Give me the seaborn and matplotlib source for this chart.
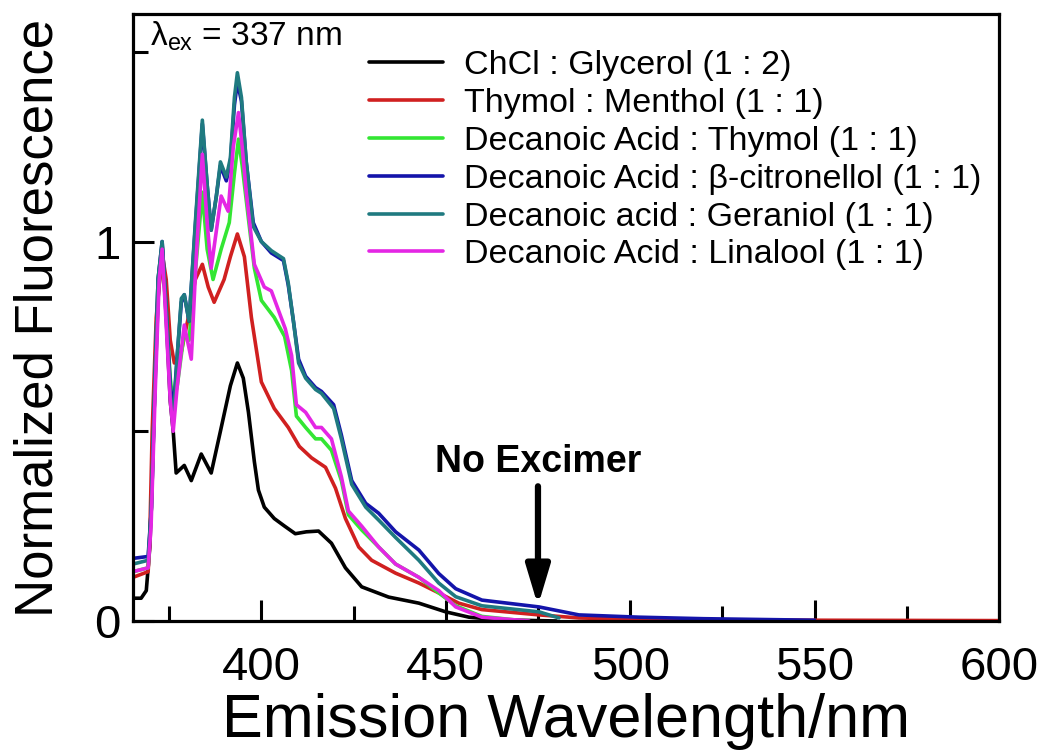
import numpy as np
import pandas as pd
import matplotlib
matplotlib.use('Agg')
import matplotlib.pyplot as plt
import seaborn as sns
from matplotlib.ticker import FixedLocator

# samples (legend order) and colours
samples = ['ChCl : Glycerol (1 : 2)', 'Thymol : Menthol (1 : 1)',
           'Decanoic Acid : Thymol (1 : 1)', 'Decanoic Acid : \u03b2-citronellol (1 : 1)',
           'Decanoic acid : Geraniol (1 : 1)', 'Decanoic Acid : Linalool (1 : 1)']
colors = ['#000000', '#d02020', '#33e633', '#1414aa', '#1f7a80', '#e426e4']

# emission spectra (wavelength nm, normalized intensity)
wl_black = [365.2, 367.4, 368.8, 369.8, 370.9, 372.0, 373.1, 374.2, 375.3, 376.1, 376.9, 379.1, 381.0,
            383.7, 386.4, 388.9, 391.6, 393.5, 395.1, 396.5, 398.1, 399.2, 400.8, 403.5, 406.3, 409.2,
            412.2, 415.5, 419.0, 422.8, 427.2, 434.5, 442.7, 450.0, 456.3, 464.4, 480.0]
fl_black = [0.06, 0.06, 0.08, 0.20, 0.55, 0.85, 0.99, 0.80, 0.58, 0.50, 0.39, 0.41, 0.37,
            0.44, 0.39, 0.50, 0.62, 0.68, 0.64, 0.55, 0.42, 0.345, 0.30, 0.27, 0.25, 0.23,
            0.235, 0.237, 0.205, 0.14, 0.09, 0.063, 0.047, 0.024, 0.01, 0.003, 0.0]

wl_red = [365.2, 369.3, 369.7, 370.4, 371.5, 373.1, 374.2, 375.3, 376.4, 378.3, 380.2, 382.1, 384.0,
          385.6, 387.2, 389.9, 391.6, 393.5, 395.4, 397.3, 400.0, 403.5, 407.3, 410.3, 413.6, 417.4,
          420.1, 422.8, 426.4, 429.9, 436.4, 442.7, 448.1, 453.5, 459.8, 475.3, 486.1, 502.4, 550.0, 600.0]
fl_red = [0.115, 0.13, 0.20, 0.50, 0.80, 0.97, 0.90, 0.74, 0.68, 0.71, 0.80, 0.90, 0.94,
          0.88, 0.84, 0.90, 0.96, 1.02, 0.96, 0.80, 0.63, 0.56, 0.51, 0.46, 0.43, 0.405,
          0.35, 0.27, 0.195, 0.16, 0.126, 0.10, 0.074, 0.047, 0.03, 0.016, 0.008, 0.004, 0.002, 0.001]

wl_green = [365.2, 369.3, 370.2, 371.2, 372.0, 373.1, 374.2, 375.3, 376.1, 377.2, 379.1, 380.4, 382.1,
            384.0, 385.3, 386.9, 389.1, 391.3, 392.7, 393.8, 394.8, 396.5, 398.1, 400.0, 403.5, 406.3,
            408.2, 409.5, 412.0, 414.7, 416.3, 419.0, 421.7, 423.6, 427.2, 431.8, 436.4, 442.7, 448.1,
            452.7, 459.8, 468.5]
fl_green = [0.13, 0.14, 0.30, 0.65, 0.90, 0.99, 0.82, 0.64, 0.57, 0.62, 0.76, 0.74, 0.92,
            1.13, 0.98, 0.90, 0.98, 1.05, 1.18, 1.27, 1.20, 1.06, 0.93, 0.845, 0.80, 0.75,
            0.66, 0.54, 0.51, 0.48, 0.48, 0.45, 0.37, 0.28, 0.24, 0.195, 0.15, 0.115, 0.074,
            0.04, 0.012, 0.003]

wl_blue = [365.2, 369.3, 370.2, 371.2, 372.0, 373.1, 374.2, 375.3, 376.1, 377.2, 378.3, 379.1, 380.4,
           382.1, 384.0, 385.3, 386.4, 387.8, 388.9, 390.5, 391.6, 392.7, 393.5, 394.6, 395.9, 397.8,
           400.0, 402.7, 406.0, 407.3, 408.7, 410.1, 412.0, 414.7, 416.3, 419.6, 421.7, 424.5, 428.3,
           431.8, 436.4, 442.7, 448.1, 452.7, 459.8, 475.3, 486.1, 502.4, 520.0, 550.0]
fl_blue = [0.165, 0.17, 0.30, 0.65, 0.90, 1.0, 0.82, 0.62, 0.55, 0.70, 0.84, 0.86, 0.79,
           1.04, 1.31, 1.15, 1.03, 1.12, 1.20, 1.16, 1.21, 1.36, 1.42, 1.37, 1.21, 1.05,
           1.0, 0.97, 0.95, 0.885, 0.79, 0.69, 0.645, 0.615, 0.605, 0.57, 0.49, 0.37, 0.31,
           0.284, 0.235, 0.187, 0.125, 0.085, 0.055, 0.037, 0.016, 0.01, 0.006, 0.002]

wl_teal = [365.2, 369.3, 370.2, 371.2, 372.0, 373.1, 374.2, 375.3, 376.1, 377.2, 378.3, 379.1, 380.4,
           382.1, 384.0, 385.3, 386.4, 387.8, 388.9, 390.5, 391.6, 392.7, 393.5, 394.6, 395.9, 397.8,
           400.0, 402.7, 406.0, 407.3, 408.7, 410.1, 412.0, 414.7, 416.3, 419.6, 421.7, 424.5, 428.3,
           431.8, 436.4, 442.7, 448.1, 452.7, 459.8, 475.3, 480.7]
fl_teal = [0.15, 0.16, 0.30, 0.65, 0.90, 1.0, 0.82, 0.60, 0.52, 0.70, 0.85, 0.86, 0.79,
           1.05, 1.32, 1.15, 1.03, 1.12, 1.21, 1.17, 1.22, 1.38, 1.445, 1.38, 1.21, 1.04,
           1.0, 0.976, 0.955, 0.89, 0.79, 0.68, 0.64, 0.61, 0.60, 0.56, 0.48, 0.36, 0.30,
           0.266, 0.22, 0.16, 0.10, 0.064, 0.04, 0.024, 0.008]

wl_mag = [365.2, 369.3, 370.1, 371.2, 372.3, 373.1, 374.2, 375.3, 376.1, 377.2, 379.1, 381.0, 382.3,
          384.0, 385.3, 386.4, 389.1, 391.0, 392.4, 393.8, 394.8, 395.9, 398.1, 400.8, 402.7, 404.6,
          406.5, 408.2, 409.5, 412.0, 414.7, 416.3, 419.0, 421.7, 423.6, 427.2, 431.8, 436.4, 442.7,
          448.1, 452.7, 459.8, 472.6]
fl_mag = [0.13, 0.14, 0.25, 0.60, 0.90, 0.98, 0.78, 0.58, 0.50, 0.62, 0.78, 0.69, 0.95,
          1.23, 1.05, 0.93, 1.12, 1.08, 1.25, 1.34, 1.25, 1.13, 0.94, 0.88, 0.87, 0.82,
          0.77, 0.70, 0.57, 0.55, 0.51, 0.51, 0.48, 0.38, 0.29, 0.25, 0.195, 0.15, 0.115,
          0.08, 0.037, 0.01, 0.0]

wavelengths = [wl_black, wl_red, wl_green, wl_blue, wl_teal, wl_mag]
intensities = [fl_black, fl_red, fl_green, fl_blue, fl_teal, fl_mag]

frames = []
for name, w, f in zip(samples, wavelengths, intensities):
    frames.append(pd.DataFrame({'wl': w, 'fl': f, 'sample': name}))
df = pd.concat(frames, ignore_index=True)

sns.set_theme(style='ticks')
plt.rcParams['font.family'] = ['Liberation Sans', 'DejaVu Sans']
plt.rcParams['mathtext.fontset'] = 'custom'
plt.rcParams['mathtext.rm'] = 'Liberation Sans'
plt.rcParams['mathtext.it'] = 'Liberation Sans:italic'
for key in ['text.color', 'axes.labelcolor', 'xtick.color', 'ytick.color', 'axes.edgecolor']:
    plt.rcParams[key] = 'black'

fig = plt.figure(figsize=(10.44, 7.56), dpi=100)
ax = fig.add_axes([0.1274, 0.1786, 0.8295, 0.803])

sns.lineplot(data=df, x='wl', y='fl', hue='sample', hue_order=samples,
             palette=colors, estimator=None, sort=False, lw=2.6, ax=ax)

ax.set_xlim(365.2, 600)
ax.set_ylim(0, 1.6)
ax.xaxis.set_major_locator(FixedLocator([400, 450, 500, 550, 600]))
ax.xaxis.set_minor_locator(FixedLocator([375, 425, 475, 525, 575]))
ax.yaxis.set_major_locator(FixedLocator([0, 1]))
ax.yaxis.set_minor_locator(FixedLocator([0.5, 1.5]))
ax.set_xticklabels(['400', '450', '500', '550', '600'])
ax.set_yticklabels(['0', '1'])
ax.tick_params(which='both', direction='in', width=2.2, color='black',
               top=False, right=False)
ax.tick_params(which='major', length=15, labelsize=34, labelcolor='black')
ax.tick_params(which='minor', length=10.5)
ax.tick_params(axis='x', which='major', pad=18)
ax.tick_params(axis='y', which='major', pad=9)
for sp in ax.spines.values():
    sp.set_visible(True)
    sp.set_linewidth(2.3)
    sp.set_color('black')

ax.set_xlabel('Emission Wavelength/nm', fontsize=44, labelpad=2)
ax.set_ylabel('Normalized Fluorescence', fontsize=38, labelpad=22)

ax.text(0.02, 0.99, r'$\mathrm{\lambda}_{\mathrm{ex}}$ = 337 nm', transform=ax.transAxes,
        fontsize=24, ha='left', va='top')
ax.text(475, 0.42, 'No Excimer', fontsize=27, fontweight='bold', ha='center', va='center')
ax.annotate('', xy=(475, 0.04), xytext=(475, 0.355),
            arrowprops=dict(arrowstyle='-|>,head_length=2.0,head_width=0.6', lw=4.5,
                            color='black', shrinkA=0, shrinkB=0))

handles, labels = ax.get_legend_handles_labels()
for h in handles:
    h.set_linewidth(2.6)
ax.legend(handles, labels, loc='upper left', bbox_to_anchor=(0.272, 0.94), frameon=False,
          fontsize=24.5, handlelength=2.2, handletextpad=0.6, labelspacing=0.2,
          borderpad=0, borderaxespad=0)

fig.savefig('out.png', dpi=100)
